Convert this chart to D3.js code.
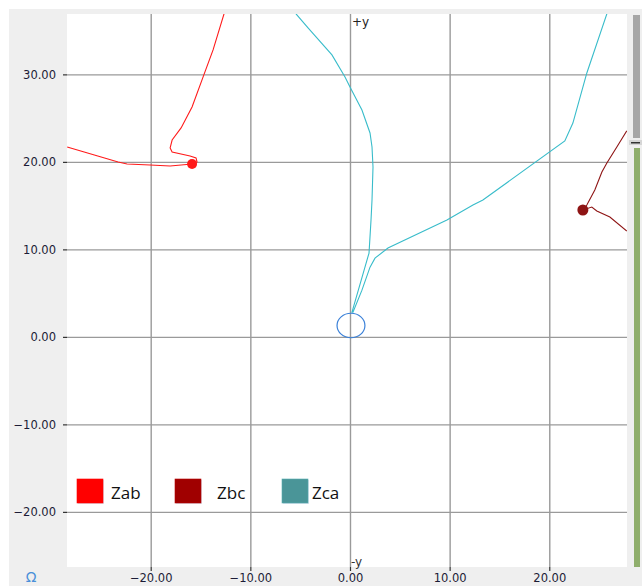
<!DOCTYPE html>
<html>
<head>
<meta charset="utf-8">
<script src="https://cdn.jsdelivr.net/npm/d3@7"></script>
<style>
  body { margin: 0; background: #fff; }
  svg { display: block; }
</style>
</head>
<body>
<svg id="chart"></svg>
<script>
// impedance trajectories (ohm)
const xTicks = [-20, -10, 0, 10, 20];
const yTicks = [-20, -10, 0, 10, 20, 30];

const zabX = [-12.64, -13.74, -14.74, -15.85, -16.95, -17.85, -18.05, -17.85, -16.05, -15.45, -15.35, -15.85, -18.05, -20.06, -22.37, -23.27, -28.38];
const zabY = [36.92, 32.8, 29.71, 26.28, 23.88, 22.5, 21.59, 21.13, 20.68, 20.45, 19.99, 19.76, 19.53, 19.65, 19.76, 19.99, 21.7];
const zabMarker = 11;

const zbcX = [27.78, 26.78, 25.78, 25.28, 24.57, 23.77, 23.37, 24.27, 24.77, 26.08, 27.78];
const zbcY = [23.54, 21.7, 19.87, 18.84, 16.79, 15.07, 14.5, 14.84, 14.38, 13.7, 12.09];
const zbcMarker = 6;

const zcaX = [-5.42, -4.21, -1.81, -0.5, 0.0, 1.2, 2.01, 2.21, 2.31, 2.21, 2.11, 1.91, 0.2, 0.3, 1.2, 2.01, 2.51, 3.81, 9.73, 12.34, 13.34, 21.56, 22.37, 23.77, 25.78];
const zcaY = [36.92, 35.32, 32.23, 29.71, 28.57, 25.93, 23.3, 21.7, 19.41, 15.64, 13.35, 9.58, 2.83, 2.83, 5.34, 7.97, 9.0, 10.15, 13.35, 15.07, 15.64, 22.39, 24.44, 30.16, 36.92];

// setting circle
const circleCenter = [0.1, 1.3];
const circleRadius = 1.4;

const legendNames = ["Zab", "Zbc", "Zca"];
const legendColors = ["#ff0000", "#a00000", "#4a9598"];

const width = 642, height = 586;
const plot = { left: 67, right: 627, top: 14, bottom: 567 };

const svg = d3.select("#chart").attr("width", width).attr("height", height);

// window background
svg.append("rect").attr("x", 9).attr("y", 9).attr("width", width - 9).attr("height", height - 9).attr("fill", "#efefef");
svg.append("rect")
  .attr("x", plot.left).attr("y", plot.top)
  .attr("width", plot.right - plot.left).attr("height", plot.bottom - plot.top)
  .attr("fill", "#fff");

// scales
const x = d3.scaleLinear().domain([-28.4, 27.8]).range([plot.left, plot.right]);
const y = d3.scaleLinear().domain([36.9, -26.3]).range([plot.top, plot.bottom]);

const fmt = d3.format(".2f");

// grid
const gridX = svg.append("g")
  .attr("transform", `translate(0,${plot.bottom})`)
  .call(d3.axisBottom(x).tickValues(xTicks).tickSize(-(plot.bottom - plot.top)).tickFormat(""));
const gridY = svg.append("g")
  .attr("transform", `translate(${plot.left},0)`)
  .call(d3.axisLeft(y).tickValues(yTicks).tickSize(-(plot.right - plot.left)).tickFormat(""));
[gridX, gridY].forEach((g) => {
  g.select(".domain").remove();
  g.selectAll(".tick line").attr("stroke", "#9a9a9a").attr("stroke-width", 1.4);
});

// axes with labels
const axX = svg.append("g")
  .attr("transform", `translate(0,${plot.bottom})`)
  .call(d3.axisBottom(x).tickValues(xTicks).tickSize(4).tickPadding(3).tickFormat(fmt));
const axY = svg.append("g")
  .attr("transform", `translate(${plot.left},0)`)
  .call(d3.axisLeft(y).tickValues(yTicks).tickSize(4).tickPadding(7).tickFormat(fmt));
[axX, axY].forEach((g) => {
  g.select(".domain").remove();
  g.selectAll(".tick line").attr("stroke", "#333").attr("stroke-width", 1.2);
  g.selectAll(".tick text")
    .attr("fill", "#1c1c36")
    .style("font-family", "DejaVu Sans, Verdana, sans-serif")
    .style("font-size", "11.5px");
});

// +y / -y markers
svg.append("text").attr("x", x(0) + 2).attr("y", plot.top + 12)
  .text("+y").attr("font-family", "DejaVu Sans, sans-serif").attr("font-size", "12px").attr("fill", "#222");
svg.append("text").attr("x", x(0) + 1).attr("y", plot.bottom - 1)
  .text("-y").attr("font-family", "DejaVu Sans, sans-serif").attr("font-size", "12px").attr("fill", "#333");

// unit
svg.append("text").attr("x", 31).attr("y", 582).attr("text-anchor", "middle")
  .text("Ω").attr("font-family", "DejaVu Sans, sans-serif").attr("font-size", "14px").attr("fill", "#4a90d9");

// clip everything to the plot area
svg.append("clipPath").attr("id", "clip")
  .append("rect")
  .attr("x", plot.left).attr("y", plot.top)
  .attr("width", plot.right - plot.left).attr("height", plot.bottom - plot.top);
const inner = svg.append("g").attr("clip-path", "url(#clip)");

const line = d3.line().x((d) => x(d[0])).y((d) => y(d[1]));

const series = [
  { xs: zcaX, ys: zcaY, color: "#38bcca", marker: null, r: 0 },
  { xs: zabX, ys: zabY, color: "#ff1a1a", marker: zabMarker, r: 5 },
  { xs: zbcX, ys: zbcY, color: "#8e1414", marker: zbcMarker, r: 5.5 },
];

series.forEach((s) => {
  const pts = s.xs.map((v, i) => [v, s.ys[i]]);
  inner.append("path")
    .datum(pts)
    .attr("d", line)
    .attr("fill", "none")
    .attr("stroke", s.color)
    .attr("stroke-width", 1.1);
  if (s.marker !== null) {
    inner.append("circle")
      .attr("cx", x(pts[s.marker][0]))
      .attr("cy", y(pts[s.marker][1]))
      .attr("r", s.r)
      .attr("fill", s.color);
  }
});

// setting circle
inner.append("ellipse")
  .attr("cx", x(circleCenter[0]))
  .attr("cy", y(circleCenter[1]))
  .attr("rx", x(circleRadius) - x(0))
  .attr("ry", y(0) - y(circleRadius))
  .attr("fill", "none")
  .attr("stroke", "#3a80d8")
  .attr("stroke-width", 1.2);

// legend
const legendX = [77, 175, 282];
const legendTextDx = [34, 42, 30];
const legend = svg.append("g");
legendNames.forEach((name, i) => {
  const g = legend.append("g").attr("transform", `translate(${legendX[i]},479)`);
  g.append("rect").attr("x", 1).attr("y", 1).attr("width", 26).attr("height", 24)
    .attr("fill", "#c9d6e8").attr("opacity", 0.6);
  g.append("rect").attr("width", 26).attr("height", 24).attr("fill", legendColors[i])
    .attr("stroke", d3.color(legendColors[i]).brighter(0.4)).attr("stroke-width", 0.6);
  g.append("text").attr("x", legendTextDx[i]).attr("y", 20)
    .text(name)
    .attr("font-family", "Open Sans, Noto Sans, sans-serif")
    .attr("font-size", "17px")
    .attr("fill", "#111");
});

// right side slider
svg.append("rect").attr("x", 633).attr("y", 15).attr("width", 7).attr("height", 123).attr("fill", "#a6a6a6");
svg.append("rect").attr("x", 629).attr("y", 140).attr("width", 13).attr("height", 5).attr("fill", "#d6d6d6");
svg.append("rect").attr("x", 631).attr("y", 142).attr("width", 9).attr("height", 1.5).attr("fill", "#333");
svg.append("rect").attr("x", 634).attr("y", 148).attr("width", 6).attr("height", 419).attr("fill", "#8fae6c");
</script>
</body>
</html>
